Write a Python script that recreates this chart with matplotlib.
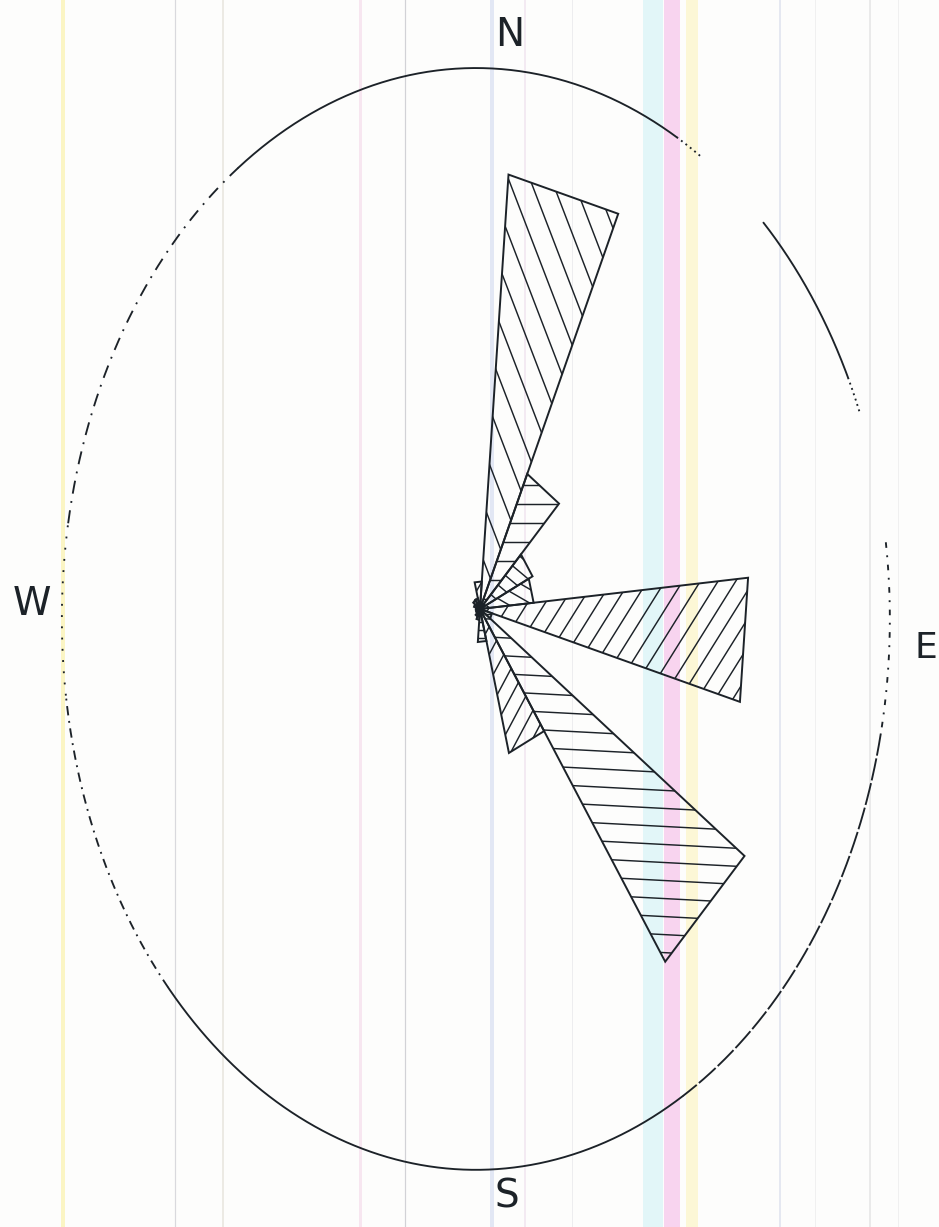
import numpy as np
import matplotlib
matplotlib.use("Agg")
import matplotlib.pyplot as plt
from matplotlib.patches import Polygon
from matplotlib.collections import LineCollection
from matplotlib.lines import Line2D

# 20-degree direction classes (compass bearing of the class start, clockwise from north)
bin_start = [345, 5, 25, 45, 65, 85, 105, 125, 145, 165,
             185, 205, 225, 245, 265, 285, 305, 325]
bin_width = 20
# relative frequency of each class, outer circle = 1
frequency = [0.05, 0.79, 0.27, 0.14, 0.13, 0.65, 0.03, 0.78, 0.27, 0.06,
             0.02, 0.015, 0.01, 0.01, 0.01, 0.015, 0.02, 0.02]
compass_labels = ["N", "E", "S", "W"]

# hatch direction (degrees, screen frame) and spacing (px) per class
hatch_dir = [60, 111, 0, -40, -30, 58, 0, -3, 62, 0,
             45, 45, 45, 45, 45, 45, 45, 45]
hatch_gap = [8, 20, 19, 12, 12, 15, 8, 18, 13, 8,
             6, 6, 6, 6, 6, 6, 6, 6]

INK = "#1c2228"
W_PX, H_PX = 939, 1227
SX, SY = 414.0, 552.0          # pixels per unit radius, horizontal / vertical
CX_PX, CY_PX = 480.0, 609.0    # rose centre in pixels

fig = plt.figure(figsize=(W_PX / 100, H_PX / 100), dpi=100)
fig.patch.set_facecolor("#fdfdfc")

# faint vertical streaks of the paper
streaks = [(63, "#fbf5c4", 4), (175, "#d9d9dd", 1.2), (223, "#eceae4", 2),
           (360, "#f7e6f0", 3), (405, "#d2d2d6", 1.2), (492, "#e2e7f4", 4),
           (525, "#f3eaf2", 2), (572, "#ededef", 1), (653, "#e2f6f8", 20),
           (672, "#f8d4ef", 16), (692, "#fcf7d6", 12), (780, "#e5e8f1", 2),
           (815, "#f0f0f0", 1), (870, "#eaeaea", 2), (898, "#f0f0f0", 1)]
for xp, col, wpx in streaks:
    fig.add_artist(Line2D([xp / W_PX] * 2, [0, 1], transform=fig.transFigure,
                          color=col, lw=wpx * 0.72, zorder=0))

ax = fig.add_axes([0, 0, 1, 1])
ax.set_xlim(-CX_PX / SX, (W_PX - CX_PX) / SX)
ax.set_ylim(-(H_PX - CY_PX) / SY, CY_PX / SY)
ax.axis("off")
ax.patch.set_alpha(0)


def to_xy(r, bearing):
    b = np.deg2rad(bearing)
    return r * np.sin(b), r * np.cos(b)


# outer circle (frequency = 1), drawn in pieces the way the pen left it
ecx, ecy = -0.01, -0.018
pieces = [(-35, 29, "solid"), (29, 33, (0, (1, 2))), (44, 64, "solid"),
          (64, 68, (0, (1, 2))), (82, 102, (0, (3, 4, 1, 4))),
          (102, 150, (0, (12, 1.5))), (150, 228, "solid"),
          (228, 262, (0, (5, 3, 1, 3))), (262, 280, (0, (1, 5))),
          (280, 325, (0, (7, 4, 1, 4)))]
for a0, a1, ls in pieces:
    t = np.deg2rad(np.linspace(a0, a1, 200))
    ax.plot(ecx + np.sin(t), ecy + 0.998 * np.cos(t), color=INK, lw=1.35,
            linestyle=ls, solid_capstyle="round", zorder=2)

# petals: triangle from centre to both class edges, hatched
for start, f, hd, hg in zip(bin_start, frequency, hatch_dir, hatch_gap):
    x0, y0 = to_xy(f, start)
    x1, y1 = to_xy(f, start + bin_width)
    verts = np.array([[0, 0], [x0, y0], [x1, y1]])
    patch = Polygon(verts, closed=True, fill=False, edgecolor=INK,
                    lw=1.4, joinstyle="miter", zorder=4)
    ax.add_patch(patch)

    # hatch lines laid out in pixel space, then mapped back to data units
    P = verts * np.array([SX, SY])
    phi = np.deg2rad(hd)
    d = np.array([np.cos(phi), np.sin(phi)])
    n = np.array([-np.sin(phi), np.cos(phi)])
    proj = P @ n
    L = np.abs(P).max() * 2 + 50
    segs = []
    for off in np.arange(proj.min() + hg * 0.5, proj.max(), hg):
        a = off * n - L * d
        b = off * n + L * d
        segs.append([a / [SX, SY], b / [SX, SY]])
    if segs:
        lc = LineCollection(segs, colors=INK, linewidths=1.05, zorder=3)
        ax.add_collection(lc)
        clip = Polygon(verts, closed=True, transform=ax.transData)
        lc.set_clip_path(clip)

# compass letters
label_pos = {"N": (0.072, 1.04), "E": (1.078, -0.07),
             "S": (0.065, -1.065), "W": (-1.082, 0.009)}
label_size = {"N": 28, "E": 26, "S": 28, "W": 28}
for lab in compass_labels:
    x, y = label_pos[lab]
    ax.text(x, y, lab, ha="center", va="center", fontsize=label_size[lab],
            fontfamily="DejaVu Sans", fontweight="normal", color=INK,
            zorder=5)

fig.savefig("out.png", dpi=100, facecolor=fig.get_facecolor())
